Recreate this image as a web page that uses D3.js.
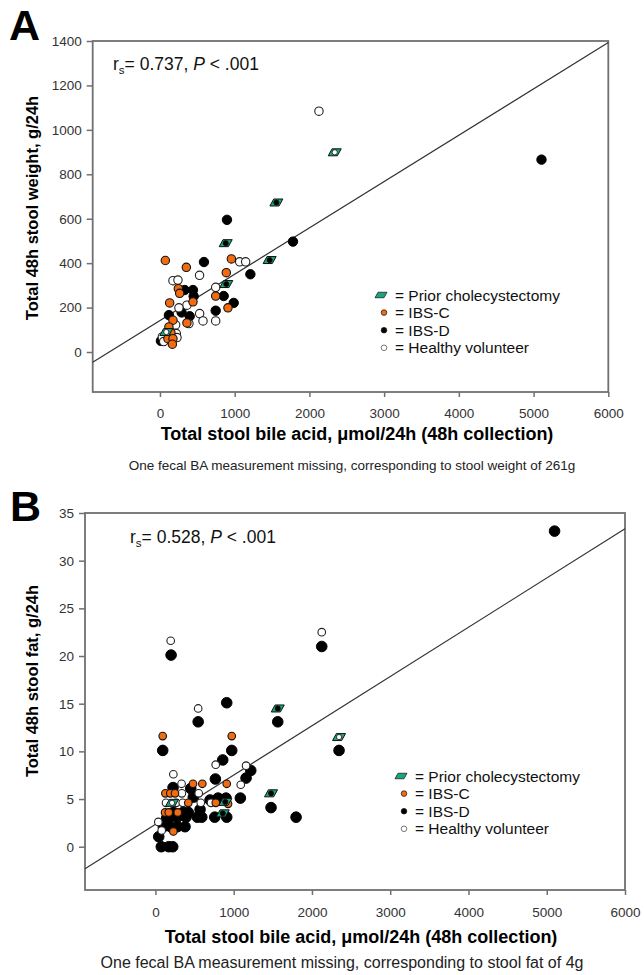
<!DOCTYPE html>
<html>
  <head>
    <meta charset="UTF-8">
    <title>Stool bile acid vs stool weight and fat</title>
    <script src="https://d3js.org/d3.v7.min.js"></script>
    <style>
      body { margin: 0; background: #fff; }
      svg { font-family: Arial, "Liberation Sans", sans-serif; }
    </style>
  </head>
  <body>
    <div id="chart"></div>
    <script>
      // ---- data ----
      // panel A: total stool bile acid (umol/24h) vs stool weight (g/24h)
      const weightIBSD = [[897,595],[1780,497],[5106,866],[589,405],[1210,350],[331,279],[442,279],
        [451,251],[853,252],[987,221],[746,186],[120,166],[398,161],[290,178],[13,50]];
      const weightIBSC = [[72,412],[353,381],[956,419],[888,357],[246,285],[264,264],[746,252],
        [130,221],[442,226],[910,199],[361,131],[174,143],[120,113],[147,86],[107,60],[174,60],[166,35]];
      const weightHealthy = [[2128,1084],[1067,406],[1147,406],[530,345],[174,321],[241,324],[746,291],
        [361,211],[254,199],[531,173],[576,140],[746,140],[388,128],[210,122],[219,83],[32,68],[228,65],[50,47]];
      const weightChole = [[1558,673,"D"],[2339,899,"H"],[880,490,"D"],[1468,414,"D"],[888,306,"D"],[85,90,"H"]];
      const weightLine = [[-900,-46],[6000,1393]];

      // panel B: total stool bile acid vs stool fat (g/24h)
      const fatIBSD = [[5100,33.1],[2125,21.0],[200,20.1],[911,15.1],[546,13.1],[1563,13.1],[93,10.1],
        [975,10.1],[2346,10.1],[860,9.1],[1218,8.0],[1158,7.2],[766,7.1],[225,6.2],[451,6.1],[484,5.2],
        [800,5.1],[902,5.1],[1085,5.1],[1477,4.1],[1797,3.1],[570,3.9],[229,3.6],[357,3.6],[420,3.6],
        [187,3.1],[280,3.1],[391,3.1],[535,3.1],[758,3.1],[911,3.1],[101,2.1],[195,2.1],[280,2.1],
        [378,2.1],[42,1.05],[75,0],[170,0],[221,0],[144,3.0],[698,4.9],[592,3.1]];
      const fatIBSC = [[93,11.6],[975,11.6],[480,6.6],[599,6.6],[911,6.6],[127,5.6],[190,5.6],[250,5.6],
        [420,4.6],[771,4.6],[928,4.5],[123,3.6],[170,3.6],[285,3.6],[229,1.6]];
      const fatHealthy = [[195,21.6],[2125,22.5],[546,14.5],[770,8.6],[1158,8.5],[1090,6.5],[229,7.6],
        [334,6.6],[338,5.6],[553,5.6],[135,4.6],[264,4.6],[349,4.6],[579,4.6],[710,4.6],[37,2.6],[80,1.7]];
      const fatChole = [[1563,14.5,"D"],[2346,11.5,"H"],[1477,5.6,"D"],[212,4.6,"H"],[893,4.7,"D"],[860,3.5,"D"]];
      const fatLine = [[-900,-2.3],[6000,33.35]];

      const xTicks = [0,1000,2000,3000,4000,5000,6000];
      const weightTicks = [0,200,400,600,800,1000,1200,1400];
      const fatTicks = [0,5,10,15,20,25,30,35];

      const legendItems = ["Prior cholecystectomy", "IBS-C", "IBS-D", "Healthy volunteer"];

      const colors = {C: "#f26b10", D: "#000", H: "#fff", chole: "#19a67f"};
      const frameColor = "#707070";

      const svg = d3.select("#chart").append("svg")
        .attr("width", 644)
        .attr("height", 975);

      // parallelogram for the cholecystectomy symbol
      function choleShape(w, h) {
        const s = h * 0.55;
        return `M${-w/2 + s},${-h/2} L${w/2},${-h/2} L${w/2 - s},${h/2} L${-w/2},${h/2} Z`;
      }

      function drawPanel(p) {
        const x = d3.scaleLinear().domain([-900, 6000]).range([p.left, p.right]);
        const y = d3.scaleLinear().domain(p.yDomain).range([p.bottom, p.top]);
        const g = svg.append("g");

        // panel letter
        g.append("text")
          .attr("x", p.letterX).attr("y", p.letterY)
          .attr("font-size", 43).attr("font-weight", "bold")
          .text(p.letter);

        // x axis
        const xa = g.append("g")
          .attr("transform", `translate(0,${p.bottom})`)
          .call(d3.axisBottom(x).tickValues(xTicks).tickFormat(d3.format("d"))
            .tickSize(5).tickSizeOuter(0).tickPadding(p.xPad));
        // y axis
        const ya = g.append("g")
          .attr("transform", `translate(${p.left},0)`)
          .call(d3.axisLeft(y).tickValues(p.yTicks).tickFormat(d3.format("d"))
            .tickSize(6).tickSizeOuter(0).tickPadding(5));
        [xa, ya].forEach(a => {
          a.select(".domain").remove();
          a.selectAll("line").attr("stroke", frameColor).attr("stroke-width", 1.5);
          a.selectAll("text").attr("font-size", 13.5).attr("fill", "#333")
            .attr("font-family", "Arial, 'Liberation Sans', sans-serif");
        });

        // frame
        g.append("rect")
          .attr("x", p.left).attr("y", p.top)
          .attr("width", p.right - p.left).attr("height", p.bottom - p.top)
          .attr("fill", "none").attr("stroke", frameColor).attr("stroke-width", 1.8);

        // regression line
        g.append("line")
          .attr("x1", x(p.line[0][0])).attr("y1", y(p.line[0][1]))
          .attr("x2", x(p.line[1][0])).attr("y2", y(p.line[1][1]))
          .attr("stroke", "#333").attr("stroke-width", 1.2);

        // points
        const pts = g.append("g");
        pts.selectAll(".d").data(p.ibsD).join("circle")
          .attr("cx", d => x(d[0])).attr("cy", d => y(d[1])).attr("r", p.rD)
          .attr("fill", colors.D).attr("stroke", "#000");
        pts.selectAll(".h").data(p.healthy).join("circle")
          .attr("cx", d => x(d[0])).attr("cy", d => y(d[1])).attr("r", p.rC)
          .attr("fill", colors.H).attr("stroke", "#222").attr("stroke-width", 1.1);
        pts.selectAll(".c").data(p.ibsC).join("circle")
          .attr("cx", d => x(d[0])).attr("cy", d => y(d[1])).attr("r", p.rC)
          .attr("fill", colors.C).attr("stroke", "#111").attr("stroke-width", 1.1);
        const ch = pts.selectAll(".ch").data(p.chole).join("g")
          .attr("transform", d => `translate(${x(d[0])},${y(d[1])})`);
        ch.append("path").attr("d", choleShape(13, 7))
          .attr("fill", colors.chole).attr("stroke", "#111").attr("stroke-width", 1);
        ch.append("circle").attr("r", 2.6)
          .attr("fill", d => colors[d[2]]).attr("stroke", "#111").attr("stroke-width", 0.8);

        // correlation text
        const st = g.append("text")
          .attr("x", p.statX).attr("y", p.statY)
          .attr("font-size", 17.5).attr("fill", "#111");
        st.append("tspan").text("r");
        st.append("tspan").attr("font-size", 11.5).attr("dy", 4).text("s");
        st.append("tspan").attr("dy", -4).text("= " + p.stat + ", ");
        st.append("tspan").attr("font-style", "italic").text("P");
        st.append("tspan").text(" < .001");

        // legend
        const lg = g.append("g").attr("transform", `translate(${p.legX},${p.legY})`);
        legendItems.forEach((name, i) => {
          const row = lg.append("g").attr("transform", `translate(0,${i * 17.6})`);
          if (i === 0) {
            row.append("path").attr("d", choleShape(12, 5.5)).attr("transform", "translate(1,0)")
              .attr("fill", colors.chole).attr("stroke", "#222").attr("stroke-width", 0.8);
          } else {
            const key = ["", "C", "D", "H"][i];
            row.append("circle").attr("cx", 4).attr("r", 2.8)
              .attr("fill", colors[key]).attr("stroke", key === "H" ? "#555" : "#222").attr("stroke-width", 0.8);
          }
          row.append("text").attr("x", 15).attr("y", 5.5)
            .attr("font-size", 15.5).attr("fill", "#111")
            .text("= " + name);
        });

        // axis titles
        g.append("text")
          .attr("x", p.xTitleX).attr("y", p.xTitleY)
          .attr("text-anchor", "middle").attr("font-size", 18).attr("font-weight", "bold")
          .text("Total stool bile acid, \u03bcmol/24h (48h collection)");
        g.append("text")
          .attr("transform", `translate(${p.yTitleX},${p.yTitleY}) rotate(-90)`)
          .attr("text-anchor", "middle").attr("font-size", 16.5).attr("font-weight", "bold")
          .text(p.yTitle);

        // footnote
        g.append("text")
          .attr("x", p.noteX).attr("y", p.noteY)
          .attr("text-anchor", "middle").attr("font-size", p.noteSize).attr("fill", "#222")
          .text(p.note);
      }

      drawPanel({
        letter: "A", letterX: 9, letterY: 40,
        left: 92.7, right: 608.3, top: 41, bottom: 392,
        yDomain: [-180, 1400], yTicks: weightTicks, xPad: 11,
        line: weightLine,
        ibsD: weightIBSD, ibsC: weightIBSC, healthy: weightHealthy, chole: weightChole,
        rD: 4.7, rC: 4.2,
        stat: "0.737", statX: 113, statY: 70,
        legX: 380, legY: 295,
        xTitleX: 357, xTitleY: 440,
        yTitleX: 38, yTitleY: 208, yTitle: "Total 48h stool weight, g/24h",
        noteX: 352, noteY: 470, noteSize: 13.5,
        note: "One fecal BA measurement missing, corresponding to stool weight of 261g"
      });

      drawPanel({
        letter: "B", letterX: 10, letterY: 521,
        left: 85, right: 625, top: 513, bottom: 890,
        yDomain: [-4.54, 35], yTicks: fatTicks, xPad: 12,
        line: fatLine,
        ibsD: fatIBSD, ibsC: fatIBSC, healthy: fatHealthy, chole: fatChole,
        rD: 5.3, rC: 3.8,
        stat: "0.528", statX: 130, statY: 543,
        legX: 400, legY: 776,
        xTitleX: 361, xTitleY: 943,
        yTitleX: 38, yTitleY: 681, yTitle: "Total 48h stool fat, g/24h",
        noteX: 342, noteY: 968, noteSize: 16,
        note: "One fecal BA measurement missing, corresponding to stool fat of 4g"
      });
    </script>
  </body>
</html>
